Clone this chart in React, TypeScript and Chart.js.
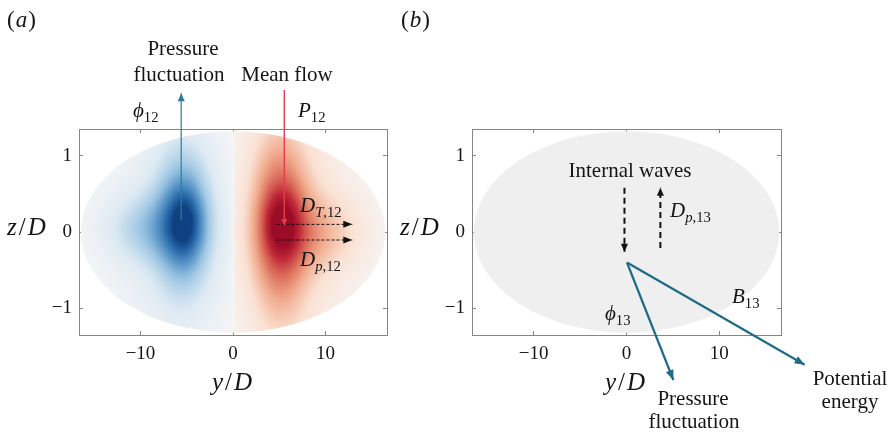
import React, { useEffect, useRef } from 'react';
import { Chart, registerables } from 'chart.js';
Chart.register(...registerables);

// ---- axes ----
const X_MIN = -16.65;
const X_MAX = 16.65;
const Z_MIN = -1.35;
const Z_MAX = 1.35;
const xTicks = [-10, 0, 10];
const zTicks = [-1, 0, 1];
const ellipseSemiY = 16.45;
const ellipseSemiZ = 1.32;

// ---- panel (a) field: blobs ----
const blobX = [-5.3, -5.3, -9.0, -6.5, 5.3, 5.0, 9.0, 6.5];
const blobZ = [0.12, 0.15, 0.05, 0.0, 0.1, 0.1, 0.0, 0.0];
const blobSx = [1.6, 2.9, 5.0, 6.0, 1.7, 3.0, 5.0, 6.0];
const blobSz = [0.38, 0.9, 0.45, 1.5, 0.38, 1.15, 0.5, 1.7];
const blobAmp = [-0.38, -0.6, -0.3, -0.2, 0.38, 0.65, 0.28, 0.2];
const negStops = [[246, 246, 246], [220, 233, 243], [160, 200, 228], [90, 150, 200], [40, 105, 170], [15, 65, 130]];
const posStops = [[247, 245, 244], [250, 224, 210], [240, 170, 140], [218, 105, 88], [190, 40, 55], [155, 12, 38]];

// ---- panel (a) flux arrows ----
const phi12X = [-5.6, -5.6];
const phi12Z = [0.15, 1.82];
const p12X = [5.55, 5.55];
const p12Z = [1.86, 0.09];
const dT12X = [4.7, 12.9];
const dT12Z = [0.1, 0.1];
const dp12X = [4.7, 12.9];
const dp12Z = [-0.105, -0.105];

// ---- panel (b) flux arrows ----
const downX = [-0.22, -0.22];
const downZ = [0.58, -0.26];
const upX = [3.65, 3.65];
const upZ = [-0.21, 0.58];
const phi13X = [0.05, 5.05];
const phi13Z = [-0.4, -1.94];
const b13X = [0.05, 19.2];
const b13Z = [-0.4, -1.74];

const SERIF = '"Liberation Serif", "DejaVu Serif", serif';
const TXT = '#151515';

function pts(xs: number[], zs: number[]) {
  return xs.map((x, i) => ({ x, y: zs[i] }));
}

function lerpStops(stops: number[][], t: number) {
  const n = stops.length - 1;
  const f = Math.max(0, Math.min(1, t)) * n;
  const i = Math.min(n - 1, Math.floor(f));
  const u = f - i;
  const a = stops[i], b = stops[i + 1];
  return [a[0] + (b[0] - a[0]) * u, a[1] + (b[1] - a[1]) * u, a[2] + (b[2] - a[2]) * u];
}

function field(x: number, z: number) {
  let v = 0;
  for (let k = 0; k < blobX.length; k++) {
    if ((blobAmp[k] < 0 && x > 0) || (blobAmp[k] > 0 && x < 0)) continue;
    const dx = (x - blobX[k]) / blobSx[k];
    const dz = (z - blobZ[k]) / blobSz[k];
    v += blobAmp[k] * Math.exp(-dx * dx - dz * dz);
  }
  return v * (1 - Math.exp(-Math.abs(x) / 0.12));
}

type Seg = [string, string];
function drawMath(ctx: CanvasRenderingContext2D, segs: Seg[], x: number, y: number, size: number, align: string, gap = 0) {
  const sub = size * 0.7;
  const fontFor = (st: string) => {
    const isSub = st[0] === 's';
    const it = st.endsWith('i');
    return `${it ? 'italic ' : ''}${isSub ? sub : size}px ${SERIF}`;
  };
  let total = 0;
  const widths: number[] = [];
  for (const [t, st] of segs) {
    ctx.font = fontFor(st);
    const w = ctx.measureText(t).width + gap;
    widths.push(w);
    total += w;
  }
  total -= gap;
  let cx = align === 'center' ? x - total / 2 : align === 'right' ? x - total : x;
  ctx.textAlign = 'left';
  ctx.textBaseline = 'alphabetic';
  ctx.fillStyle = TXT;
  segs.forEach(([t, st], i) => {
    ctx.font = fontFor(st);
    const dy = st[0] === 's' ? size * 0.22 : 0;
    ctx.fillText(t, cx, y + dy);
    cx += widths[i];
  });
}

function drawText(ctx: CanvasRenderingContext2D, t: string, x: number, y: number, size: number) {
  ctx.font = `${size}px ${SERIF}`;
  ctx.textAlign = 'center';
  ctx.textBaseline = 'alphabetic';
  ctx.fillStyle = TXT;
  ctx.fillText(t, x, y);
}

function arrowHead(ctx: CanvasRenderingContext2D, x1: number, y1: number, x2: number, y2: number, len: number, wid: number, color: string) {
  const ang = Math.atan2(y2 - y1, x2 - x1);
  ctx.save();
  ctx.translate(x2, y2);
  ctx.rotate(ang);
  ctx.beginPath();
  ctx.moveTo(0, 0);
  ctx.lineTo(-len, wid / 2);
  ctx.lineTo(-len, -wid / 2);
  ctx.closePath();
  ctx.fillStyle = color;
  ctx.fill();
  ctx.restore();
}

const arrowPlugin = {
  id: 'arrowHeads',
  afterDatasetsDraw(chart: any) {
    const ctx = chart.ctx;
    chart.data.datasets.forEach((ds: any, i: number) => {
      if (!ds.arrow) return;
      const meta = chart.getDatasetMeta(i);
      const n = meta.data.length;
      const a = meta.data[n - 2], b = meta.data[n - 1];
      arrowHead(ctx, a.x, a.y, b.x, b.y, ds.arrow[0], ds.arrow[1], ds.borderColor);
    });
  },
};

function makeScales(yWidth: number) {
  const gridOpts = { drawOnChartArea: false, drawTicks: true, tickLength: -4, color: '#858585', lineWidth: 1 };
  const border = { display: true, color: '#858585', width: 1 };
  const tickFont = { family: SERIF, size: 19 };
  const fmt = (v: any) => String(v).replace('-', '\u2212');
  return {
    x: {
      type: 'linear', position: 'bottom', min: X_MIN, max: X_MAX,
      afterBuildTicks: (s: any) => { s.ticks = xTicks.map((v) => ({ value: v })); },
      afterFit: (s: any) => { s.height = 50; },
      grid: gridOpts, border,
      ticks: { font: tickFont, color: TXT, padding: 12, callback: fmt, maxRotation: 0, autoSkip: false },
    },
    x2: {
      type: 'linear', position: 'top', min: X_MIN, max: X_MAX,
      afterBuildTicks: (s: any) => { s.ticks = xTicks.map((v) => ({ value: v })); },
      afterFit: (s: any) => { s.height = 10; },
      grid: gridOpts, border, ticks: { display: false },
    },
    y: {
      type: 'linear', position: 'left', min: Z_MIN, max: Z_MAX,
      afterBuildTicks: (s: any) => { s.ticks = zTicks.map((v) => ({ value: v })); },
      afterFit: (s: any) => { s.width = yWidth; },
      grid: gridOpts, border,
      ticks: { font: tickFont, color: TXT, padding: 11, callback: fmt, autoSkip: false },
    },
    y2: {
      type: 'linear', position: 'right', min: Z_MIN, max: Z_MAX,
      afterBuildTicks: (s: any) => { s.ticks = zTicks.map((v) => ({ value: v })); },
      afterFit: (s: any) => { s.width = 10; },
      grid: gridOpts, border, ticks: { display: false },
    },
  };
}

function ellipsePath(chart: any) {
  const xs = chart.scales.x, ys = chart.scales.y;
  const cx = xs.getPixelForValue(0), cy = ys.getPixelForValue(0);
  const rx = xs.getPixelForValue(ellipseSemiY) - cx;
  const ry = cy - ys.getPixelForValue(ellipseSemiZ);
  const ctx = chart.ctx;
  ctx.beginPath();
  ctx.ellipse(cx, cy, rx, ry, 0, 0, Math.PI * 2);
}

const heatPluginA = {
  id: 'heatA',
  beforeDatasetsDraw(chart: any) {
    const { left, top, right, bottom } = chart.chartArea;
    const xs = chart.scales.x, ys = chart.scales.y;
    const w = Math.round(right - left), h = Math.round(bottom - top);
    const off = document.createElement('canvas');
    off.width = w; off.height = h;
    const octx = off.getContext('2d')!;
    const img = octx.createImageData(w, h);
    for (let j = 0; j < h; j++) {
      const z = ys.getValueForPixel(top + j + 0.5);
      for (let i = 0; i < w; i++) {
        const x = xs.getValueForPixel(left + i + 0.5);
        const v = field(x, z) / 1.15;
        const c = v < 0 ? lerpStops(negStops, -v) : lerpStops(posStops, v);
        const p = (j * w + i) * 4;
        img.data[p] = c[0]; img.data[p + 1] = c[1]; img.data[p + 2] = c[2]; img.data[p + 3] = 255;
      }
    }
    octx.putImageData(img, 0, 0);
    const ctx = chart.ctx;
    ctx.save();
    ellipsePath(chart);
    ctx.clip();
    ctx.drawImage(off, left, top);
    ctx.restore();
  },
};

const heatPluginB = {
  id: 'heatB',
  beforeDatasetsDraw(chart: any) {
    const ctx = chart.ctx;
    ctx.save();
    ellipsePath(chart);
    ctx.fillStyle = '#efefef';
    ctx.fill();
    ctx.restore();
  },
};

function axisTitle(ctx: CanvasRenderingContext2D, a: string, x: number, y: number, align: string) {
  drawMath(ctx, [[a, 'i'], ['/', 'r'], ['D', 'i']], x, y, 25, align, 2);
}

const textPluginA = {
  id: 'textA',
  afterDraw(chart: any) {
    const ctx = chart.ctx;
    drawMath(ctx, [['(', 'r'], ['a', 'i'], [')', 'r']], 7, 27, 23, 'left', 1);
    drawMath(ctx, [['(', 'r'], ['b', 'i'], [')', 'r']], 401, 27, 23, 'left', 1);
    drawText(ctx, 'Pressure', 183, 55, 21);
    drawText(ctx, 'fluctuation', 179, 81, 21);
    drawText(ctx, 'Mean flow', 287, 81, 21);
    drawMath(ctx, [['\u03D5', 'i'], ['12', 'sr']], 133, 117, 21, 'left');
    drawMath(ctx, [['P', 'i'], ['12', 'sr']], 298, 117, 21, 'left');
    drawMath(ctx, [['D', 'i'], ['T', 'si'], [',12', 'sr']], 300, 212, 21, 'left');
    drawMath(ctx, [['D', 'i'], ['p', 'si'], [',12', 'sr']], 300, 266, 21, 'left');
    axisTitle(ctx, 'z', 7, 235, 'left');
    axisTitle(ctx, 'y', 232, 390, 'center');
  },
};

const textPluginB = {
  id: 'textB',
  afterDraw(chart: any) {
    const ctx = chart.ctx;
    drawText(ctx, 'Internal waves', 630, 177, 21);
    drawMath(ctx, [['D', 'i'], ['p', 'si'], [',13', 'sr']], 670, 217, 21, 'left');
    drawMath(ctx, [['\u03D5', 'i'], ['13', 'sr']], 605, 320, 21, 'left');
    drawMath(ctx, [['B', 'i'], ['13', 'sr']], 732, 303, 21, 'left');
    drawText(ctx, 'Pressure', 693, 405, 21);
    drawText(ctx, 'fluctuation', 694, 428, 21);
    drawText(ctx, 'Potential', 850, 385, 21);
    drawText(ctx, 'energy', 850, 408, 21);
    axisTitle(ctx, 'z', 400, 235, 'left');
    axisTitle(ctx, 'y', 625, 390, 'center');
  },
};

function lineDs(xs: number[], zs: number[], color: string, width: number, dash: number[], arrow: number[]) {
  return {
    data: pts(xs, zs), showLine: true, borderColor: color, backgroundColor: color,
    borderWidth: width, borderDash: dash, pointRadius: 0, clip: false, xAxisID: 'x', yAxisID: 'y',
    arrow,
  } as any;
}

function makeConfig(datasets: any[], padding: any, yWidth: number, plugins: any[]) {
  return {
    type: 'scatter',
    data: { datasets },
    options: {
      responsive: false, animation: false, devicePixelRatio: 1, events: [],
      layout: { padding },
      plugins: { legend: { display: false }, tooltip: { enabled: false } },
      scales: makeScales(yWidth),
    },
    plugins: [...plugins, arrowPlugin],
  } as any;
}

export default function App() {
  const refA = useRef<HTMLCanvasElement>(null);
  const refB = useRef<HTMLCanvasElement>(null);
  useEffect(() => {
    const a = new Chart(refA.current!, makeConfig([
      lineDs(phi12X, phi12Z, '#2b7c98', 1.2, [], [8, 7]),
      lineDs(p12X, p12Z, '#e2404c', 1, [], [6, 6]),
      lineDs(dT12X, dT12Z, '#111111', 1, [3, 2], [9, 7]),
      lineDs(dp12X, dp12Z, '#111111', 1, [3, 2], [9, 7]),
    ], { left: 0, right: 494, top: 119, bottom: 51 }, 79, [heatPluginA, textPluginA]));
    const b = new Chart(refB.current!, makeConfig([
      lineDs(downX, downZ, '#111111', 2, [6, 4], [8, 7]),
      lineDs(upX, upZ, '#111111', 2, [6, 4], [8, 7]),
      lineDs(phi13X, phi13Z, '#1f6b87', 2.2, [], [10, 8]),
      lineDs(b13X, b13Z, '#1f6b87', 2.2, [], [10, 8]),
    ], { left: 402, right: 100, top: 119, bottom: 51 }, 70, [heatPluginB, textPluginB]));
    return () => { a.destroy(); b.destroy(); };
  }, []);
  const st: React.CSSProperties = { position: 'absolute', left: 0, top: 0, width: 891, height: 436 };
  return (
    <div style={{ position: 'absolute', left: 0, top: 0, width: 891, height: 436, background: '#fff' }}>
      <canvas ref={refA} width={891} height={436} style={st} />
      <canvas ref={refB} width={891} height={436} style={st} />
    </div>
  );
}
